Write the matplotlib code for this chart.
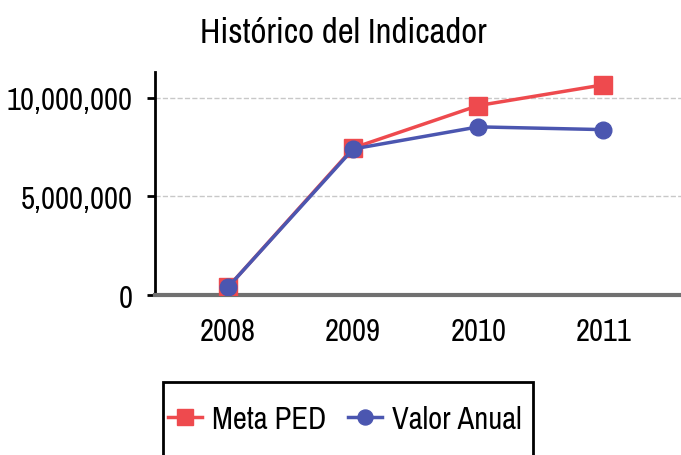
import matplotlib
matplotlib.use("Agg")
import matplotlib.pyplot as plt
from matplotlib.patches import Rectangle
from matplotlib.ticker import FuncFormatter

years = ["2008", "2009", "2010", "2011"]
meta_ped = [400000, 7450000, 9600000, 10650000]
valor_anual = [400000, 7400000, 8520000, 8380000]

plt.rcParams["font.family"] = ["Archivo Narrow", "Roboto Condensed", "DejaVu Sans"]
plt.rcParams["font.weight"] = "medium"

fig = plt.figure(figsize=(6.81, 4.56), dpi=100)
ax = fig.add_axes([155 / 681, 1 - 296 / 456, (681 - 155) / 681, (296 - 73) / 456])

x = range(len(years))
ax.plot(x, meta_ped, color="#ee4a4e", lw=2.5, marker="s", ms=13, label="Meta PED", zorder=3)
ax.plot(x, valor_anual, color="#4b56b0", lw=2.5, marker="o", ms=12, label="Valor Anual", zorder=4)

ax.set_xlim(-0.584, 3.62)
ax.set_ylim(0, 11300000)
ax.set_yticks([0, 5000000, 10000000])
ax.yaxis.set_major_formatter(FuncFormatter(lambda v, p: f"{int(v):,}"))
ax.set_xticks(list(x))
ax.set_xticklabels(years)
ax.tick_params(axis="y", labelsize=22, length=6, width=2, pad=10)
ax.tick_params(axis="x", labelsize=22, length=0, pad=16)

ax.grid(axis="y", color="#c8c8c8", ls="--", lw=1)
ax.set_axisbelow(True)
for s in ["top", "right"]:
    ax.spines[s].set_visible(False)
ax.spines["left"].set_linewidth(2)
ax.spines["bottom"].set_color("#707070")
ax.spines["bottom"].set_linewidth(3)
ax.spines["bottom"].set_linestyle((0, (2, 1)))

fig.text(343 / 681, 1 - 33 / 456, "Histórico del Indicador", ha="center", va="center", fontsize=25)

fig.patches.append(Rectangle((163 / 681, -0.05), (533 - 163) / 681, (1 - 383 / 456) + 0.05,
                             transform=fig.transFigure, fill=False, ec="black", lw=2))
fig.legend(loc="center", bbox_to_anchor=(345 / 681, 1 - 420 / 456), ncol=2, frameon=False,
           fontsize=22, handlelength=1.1, columnspacing=0.7, handletextpad=0.35,
           markerscale=0.9)

fig.savefig("out.png", dpi=100)
